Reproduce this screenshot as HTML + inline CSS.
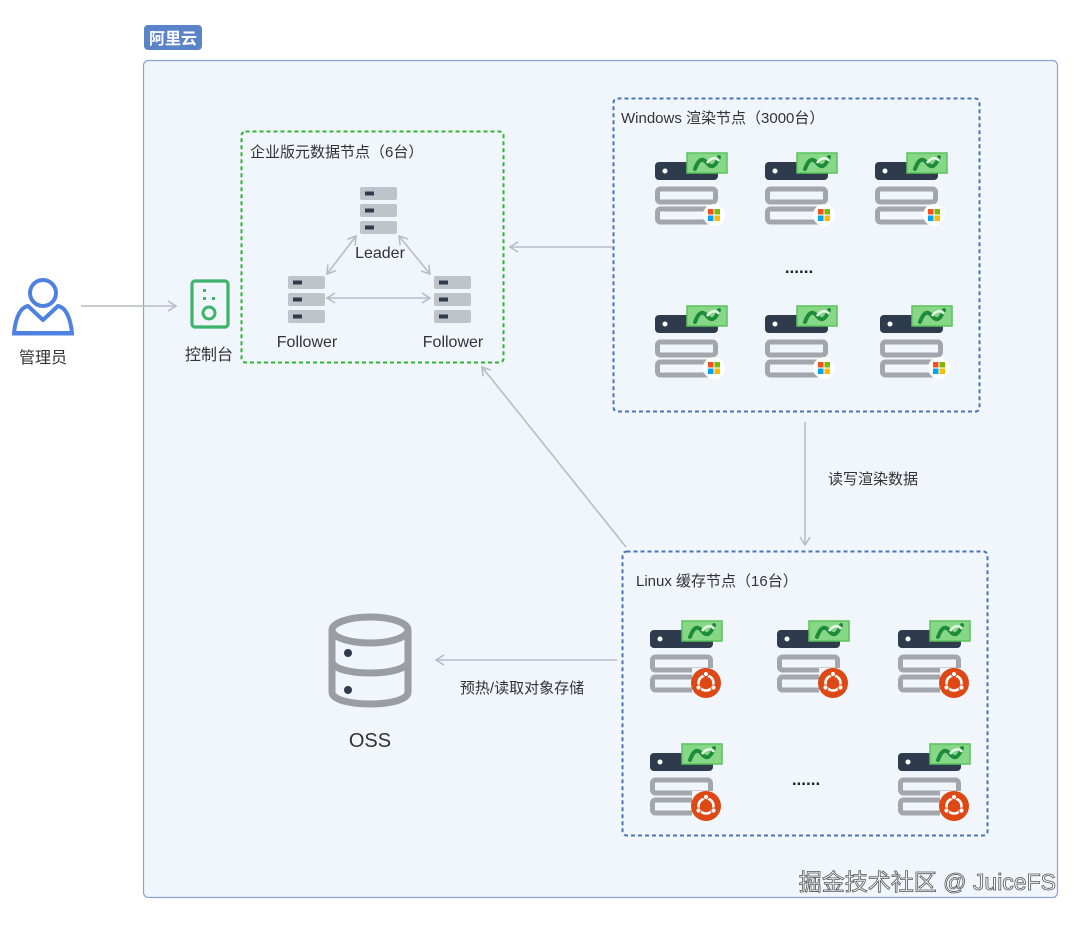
<!DOCTYPE html>
<html><head><meta charset="utf-8"><style>
html,body{margin:0;padding:0;background:#fff;}
svg text{font-family:"Liberation Sans","Noto Sans CJK SC",sans-serif;}
</style></head><body>
<svg width="1080" height="920" viewBox="0 0 1080 920" xmlns="http://www.w3.org/2000/svg">
<defs>
<marker id="ah" viewBox="0 0 12 12" refX="10" refY="6" markerWidth="12" markerHeight="12" orient="auto-start-reverse" markerUnits="userSpaceOnUse">
<path d="M2,1 L10,6 L2,11" fill="none" stroke="#b9bcc3" stroke-width="1.6"/>
</marker>
<g id="badge">
<rect x="32" y="1" width="40" height="20" fill="#86d886" stroke="#5bc25b" stroke-width="1.5"/>
<path d="M40,17 C44,6 48,6 52,11 C56,16 60,16 64,5" fill="none" stroke="#1e8a3c" stroke-width="4" stroke-linecap="round"/>
<path d="M52,11 C56,5 62,5 64,9" fill="none" stroke="#e8f8e8" stroke-width="2.5"/>
</g>
<g id="srvbase">
<rect x="0" y="10" width="63" height="18" rx="4" fill="#2d3b4c"/>
<circle cx="10" cy="19" r="2.5" fill="#fff"/>
<rect x="2.5" y="37" width="58" height="13" rx="3" fill="none" stroke="#a3a6ab" stroke-width="5"/>
<rect x="2.5" y="57" width="58" height="13" rx="3" fill="none" stroke="#a3a6ab" stroke-width="5"/>
<use href="#badge"/>
</g>
<g id="win">
<use href="#srvbase"/>
<circle cx="59" cy="63" r="11" fill="#fff"/>
<rect x="53" y="57" width="5.5" height="5.5" fill="#f25022"/>
<rect x="59.5" y="57" width="5.5" height="5.5" fill="#7fba00"/>
<rect x="53" y="63.5" width="5.5" height="5.5" fill="#00a4ef"/>
<rect x="59.5" y="63.5" width="5.5" height="5.5" fill="#ffb900"/>
</g>
<g id="ubu">
<use href="#srvbase"/>
<rect x="42" y="48" width="28" height="28" fill="#f1f5fc"/>
<circle cx="56" cy="63" r="15" fill="#dd4814"/>
<circle cx="56" cy="63" r="7.5" fill="none" stroke="#fff" stroke-width="2.6"/>
<circle cx="56" cy="54" r="2.6" fill="#fff" stroke="#dd4814" stroke-width="1"/>
<circle cx="48.5" cy="67.5" r="2.6" fill="#fff" stroke="#dd4814" stroke-width="1"/>
<circle cx="63.5" cy="67.5" r="2.6" fill="#fff" stroke="#dd4814" stroke-width="1"/>
</g>
<g id="meta">
<rect x="0" y="0" width="37" height="13" rx="2" fill="#bfc4ca"/>
<rect x="5" y="4.5" width="9" height="4" fill="#2d3b4c"/>
<rect x="0" y="17" width="37" height="13" rx="2" fill="#bfc4ca"/>
<rect x="5" y="21.5" width="9" height="4" fill="#2d3b4c"/>
<rect x="0" y="34" width="37" height="13" rx="2" fill="#bfc4ca"/>
<rect x="5" y="38.5" width="9" height="4" fill="#2d3b4c"/>
</g>
</defs>

<rect x="143.5" y="60.5" width="914" height="837" rx="5" fill="#f1f5fc" stroke="#8ea3cf" stroke-width="1.2"/>
<rect x="144" y="25" width="58" height="25" rx="4" fill="#5b84c8"/>
<text x="173" y="44" font-size="16" font-weight="bold" fill="#fff" text-anchor="middle">阿里云</text>

<circle cx="43" cy="293" r="13" fill="none" stroke="#4f82e0" stroke-width="4"/>
<path d="M14,333 C16,314 22,307 28,306 L43,320 L58,306 C64,307 70,314 72,333 Z" fill="none" stroke="#4f82e0" stroke-width="4" stroke-linejoin="round"/>
<line x1="12" y1="334" x2="74" y2="334" stroke="#4f82e0" stroke-width="3"/>
<text x="43" y="363" font-size="16" fill="#333" text-anchor="middle">管理员</text>

<line x1="81" y1="306" x2="176" y2="306" stroke="#b9bcc3" stroke-width="1.6" marker-end="url(#ah)"/>

<rect x="192" y="281" width="36" height="46" rx="3" fill="none" stroke="#3db36b" stroke-width="3.2"/>
<rect x="203" y="289" width="3" height="3" fill="#3db36b"/>
<rect x="203" y="297" width="3" height="3" fill="#3db36b"/>
<rect x="212" y="297" width="3" height="3" fill="#3db36b"/>
<circle cx="209" cy="313" r="6" fill="none" stroke="#3db36b" stroke-width="3"/>
<text x="209" y="360" font-size="16" fill="#333" text-anchor="middle">控制台</text>

<rect x="241.5" y="131.5" width="262" height="231" rx="4" fill="none" stroke="#2fb536" stroke-width="2" stroke-dasharray="4,3"/>
<text x="250" y="157" font-size="15" fill="#333">企业版元数据节点（6台）</text>
<use href="#meta" x="360" y="187"/>
<use href="#meta" x="288" y="276"/>
<use href="#meta" x="434" y="276"/>
<text x="380" y="258" font-size="16" fill="#333" text-anchor="middle">Leader</text>
<text x="307" y="347" font-size="16" fill="#333" text-anchor="middle">Follower</text>
<text x="453" y="347" font-size="16" fill="#333" text-anchor="middle">Follower</text>
<line x1="356" y1="236" x2="327" y2="274" stroke="#b9bcc3" stroke-width="1.6" marker-end="url(#ah)" marker-start="url(#ah)"/>
<line x1="399" y1="236" x2="430" y2="274" stroke="#b9bcc3" stroke-width="1.6" marker-end="url(#ah)" marker-start="url(#ah)"/>
<line x1="327" y1="298" x2="430" y2="298" stroke="#b9bcc3" stroke-width="1.6" marker-end="url(#ah)" marker-start="url(#ah)"/>

<rect x="613.5" y="98.5" width="366" height="313" rx="4" fill="none" stroke="#4a76b8" stroke-width="2" stroke-dasharray="4,3"/>
<text x="621" y="123" font-size="15" fill="#333">Windows 渲染节点（3000台）</text>
<use href="#win" x="655" y="152"/>
<use href="#win" x="765" y="152"/>
<use href="#win" x="875" y="152"/>
<text x="799" y="273" font-size="17" font-weight="bold" fill="#222" text-anchor="middle">......</text>
<use href="#win" x="655" y="305"/>
<use href="#win" x="765" y="305"/>
<use href="#win" x="880" y="305"/>

<rect x="622.5" y="551.5" width="365" height="284" rx="4" fill="none" stroke="#4a76b8" stroke-width="2" stroke-dasharray="4,3"/>
<text x="636" y="586" font-size="15" fill="#333">Linux 缓存节点（16台）</text>
<use href="#ubu" x="650" y="620"/>
<use href="#ubu" x="777" y="620"/>
<use href="#ubu" x="898" y="620"/>
<use href="#ubu" x="650" y="743"/>
<use href="#ubu" x="898" y="743"/>
<text x="806" y="785" font-size="17" font-weight="bold" fill="#222" text-anchor="middle">......</text>

<line x1="613" y1="247" x2="510" y2="247" stroke="#b9bcc3" stroke-width="1.6" marker-end="url(#ah)"/>
<line x1="626" y1="547" x2="482" y2="367" stroke="#b9bcc3" stroke-width="1.6" marker-end="url(#ah)"/>
<line x1="805" y1="422" x2="805" y2="545" stroke="#b9bcc3" stroke-width="1.6" marker-end="url(#ah)"/>
<text x="873" y="484" font-size="15" fill="#333" text-anchor="middle">读写渲染数据</text>
<line x1="617" y1="660" x2="436" y2="660" stroke="#b9bcc3" stroke-width="1.6" marker-end="url(#ah)"/>
<text x="522" y="693" font-size="15" fill="#333" text-anchor="middle">预热/读取对象存储</text>

<g fill="none" stroke="#9a9ea4" stroke-width="7">
<ellipse cx="370" cy="630" rx="38" ry="13"/>
<path d="M332,630 V692 C332,708 408,708 408,692 V630"/>
<path d="M332,661 C332,677 408,677 408,661"/>
</g>
<circle cx="348" cy="653" r="4" fill="#2d3b4c"/>
<circle cx="348" cy="690" r="4" fill="#2d3b4c"/>
<text x="370" y="747" font-size="20" fill="#333" text-anchor="middle">OSS</text>

<text x="1056" y="890" font-size="23" fill="#fff" stroke="#555" stroke-width="0.8" text-anchor="end">掘金技术社区 @ JuiceFS</text>
</svg>
</body></html>
